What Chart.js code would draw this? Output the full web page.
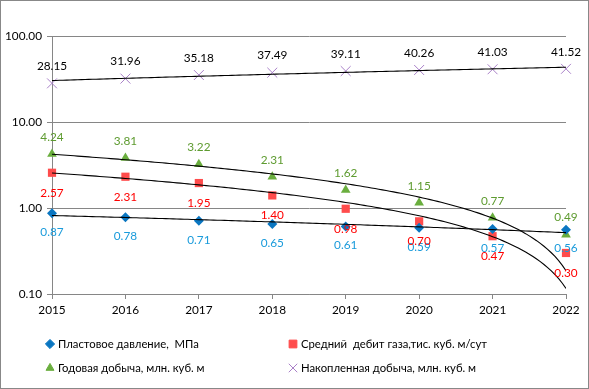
<!DOCTYPE html>
<html>
<head>
<meta charset="utf-8">
<title>Динамика показателей</title>
<script src="https://cdn.jsdelivr.net/npm/chart.js@4/dist/chart.umd.min.js"></script>
<style>
  html, body { margin: 0; padding: 0; background: #fff; }
  #wrap { position: relative; width: 589px; height: 389px; }
  #frame { position: absolute; left: 0; top: 0; width: 587px; height: 387px; border: 1px solid #888; pointer-events: none; }
</style>
</head>
<body>
<div id="wrap">
  <canvas id="chart" width="589" height="389"></canvas>
  <div id="frame"></div>
</div>
<script>
const years = [2015, 2016, 2017, 2018, 2019, 2020, 2021, 2022];
const pressure = [0.87, 0.78, 0.71, 0.65, 0.61, 0.59, 0.57, 0.56];
const gasRate = [2.57, 2.31, 1.95, 1.40, 0.98, 0.70, 0.47, 0.30];
const yearly = [4.24, 3.81, 3.22, 2.31, 1.62, 1.15, 0.77, 0.49];
const cumulative = [28.15, 31.96, 35.18, 37.49, 39.11, 40.26, 41.03, 41.52];
const yTicks = [0.1, 1, 10, 100];
const names = [
  'Пластовое давление,  МПа',
  'Средний  дебит газа,тис. куб. м/сут',
  'Годовая добыча, млн. куб. м',
  'Накопленная добыча, млн. куб. м'
];

const FONT = 'Lato';
const FS = 11.8;

// series styles
const series = [
  { name: names[0], data: pressure, style: 'rectRot', radius: 5, fill: '#0A76C1', stroke: '#0A76C1', label: '#1A9BDB', dy: 19 },
  { name: names[1], data: gasRate, style: 'rect', radius: 5.8, fill: '#FF4C4C', stroke: '#FF4C4C', label: '#FF0000', dy: 20 },
  { name: names[2], data: yearly, style: 'triangle', radius: 5.6, fill: '#6AAE3E', stroke: '#6AAE3E', label: '#5E9B30', dy: -17 },
  { name: names[3], data: cumulative, style: 'crossRot', radius: 7, fill: '#A980C8', stroke: '#A980C8', label: '#000000', dy: -17 }
];

// linear least-squares trend (as in the spreadsheet trendline)
function linearTrend(xs, ys) {
  const n = xs.length;
  const mx = xs.reduce((a, b) => a + b, 0) / n;
  const my = ys.reduce((a, b) => a + b, 0) / n;
  let sxy = 0, sxx = 0;
  for (let i = 0; i < n; i++) {
    sxy += (xs[i] - mx) * (ys[i] - my);
    sxx += (xs[i] - mx) * (xs[i] - mx);
  }
  const b = sxy / sxx;
  const a = my - b * mx;
  const pts = [];
  const x0 = xs[0], x1 = xs[n - 1];
  for (let k = 0; k <= 140; k++) {
    const x = x0 + (x1 - x0) * k / 140;
    pts.push({ x: x, y: a + b * x });
  }
  return pts;
}

const datasets = [];
series.forEach(s => {
  datasets.push({
    label: s.name + ' тренд',
    data: linearTrend(years, s.data),
    showLine: true,
    borderColor: '#000',
    borderWidth: 1.1,
    pointRadius: 0,
    fill: false,
    order: 0,
    isTrend: true
  });
});
series.forEach(s => {
  datasets.push({
    label: s.name,
    data: years.map((y, i) => ({ x: y, y: s.data[i] })),
    showLine: false,
    pointStyle: s.style,
    pointRadius: s.radius,
    pointBackgroundColor: s.fill,
    pointBorderColor: s.stroke,
    pointBorderWidth: s.style === 'crossRot' ? 1 : 0,
    clip: false,
    order: 1,
    labelColor: s.label,
    labelDy: s.dy
  });
});

const valueLabels = {
  id: 'valueLabels',
  afterDatasetsDraw(chart) {
    const ctx = chart.ctx;
    ctx.save();
    ctx.font = FS + 'px "' + FONT + '"';
    ctx.textAlign = 'center';
    ctx.textBaseline = 'middle';
    chart.data.datasets.forEach((ds, di) => {
      if (ds.isTrend) return;
      const meta = chart.getDatasetMeta(di);
      meta.data.forEach((pt, i) => {
        ctx.fillStyle = ds.labelColor;
        ctx.fillText(ds.data[i].y.toFixed(2), pt.x, pt.y + ds.labelDy);
      });
    });
    ctx.restore();
  }
};

const twoColLegend = {
  id: 'twoColLegend',
  afterDraw(chart) {
    const ctx = chart.ctx;
    const cols = [50, 293];
    const rows = [344, 368];
    ctx.save();
    ctx.font = '11.3px "' + FONT + '"';
    ctx.textBaseline = 'middle';
    ctx.textAlign = 'left';
    series.forEach((s, i) => {
      const x = cols[i % 2], y = rows[Math.floor(i / 2)];
      ctx.fillStyle = s.fill;
      ctx.strokeStyle = s.stroke;
      ctx.lineWidth = 1;
      const r = s.style === 'crossRot' ? 6 : (s.style === 'rect' ? 5.5 : 4.6);
      Chart.helpers.drawPoint(ctx, { pointStyle: s.style, radius: r, borderWidth: 1 }, x, y);
      ctx.fillStyle = '#000';
      ctx.fillText(s.name, x + 8, y);
    });
    ctx.restore();
  }
};

new Chart(document.getElementById('chart').getContext('2d'), {
  type: 'scatter',
  data: { datasets: datasets },
  options: {
    responsive: false,
    animation: false,
    events: [],
    layout: { padding: { left: 0, right: 23, top: 36, bottom: 60 } },
    plugins: { legend: { display: false }, tooltip: { enabled: false } },
    scales: {
      x: {
        type: 'linear',
        min: years[0],
        max: years[years.length - 1],
        afterBuildTicks(scale) { scale.ticks = years.map(v => ({ value: v })); },
        afterFit(scale) { scale.height = 35; },
        ticks: {
          color: '#000',
          font: { family: FONT, size: FS },
          padding: 4,
          maxRotation: 0,
          callback: v => String(v)
        },
        grid: { drawOnChartArea: false, drawTicks: true, tickLength: 5, color: '#868686' },
        border: { display: true, color: '#868686' }
      },
      y: {
        type: 'logarithmic',
        min: 0.1,
        max: 100,
        afterBuildTicks(scale) { scale.ticks = yTicks.map(v => ({ value: v })); },
        afterFit(scale) { scale.width = 52; },
        ticks: {
          color: '#000',
          font: { family: FONT, size: FS },
          padding: 5,
          callback: v => Number(v).toFixed(2)
        },
        grid: { color: '#868686', tickLength: 5, lineWidth: 1 },
        border: { display: true, color: '#868686' }
      }
    }
  },
  plugins: [valueLabels, twoColLegend]
});
</script>
</body>
</html>
